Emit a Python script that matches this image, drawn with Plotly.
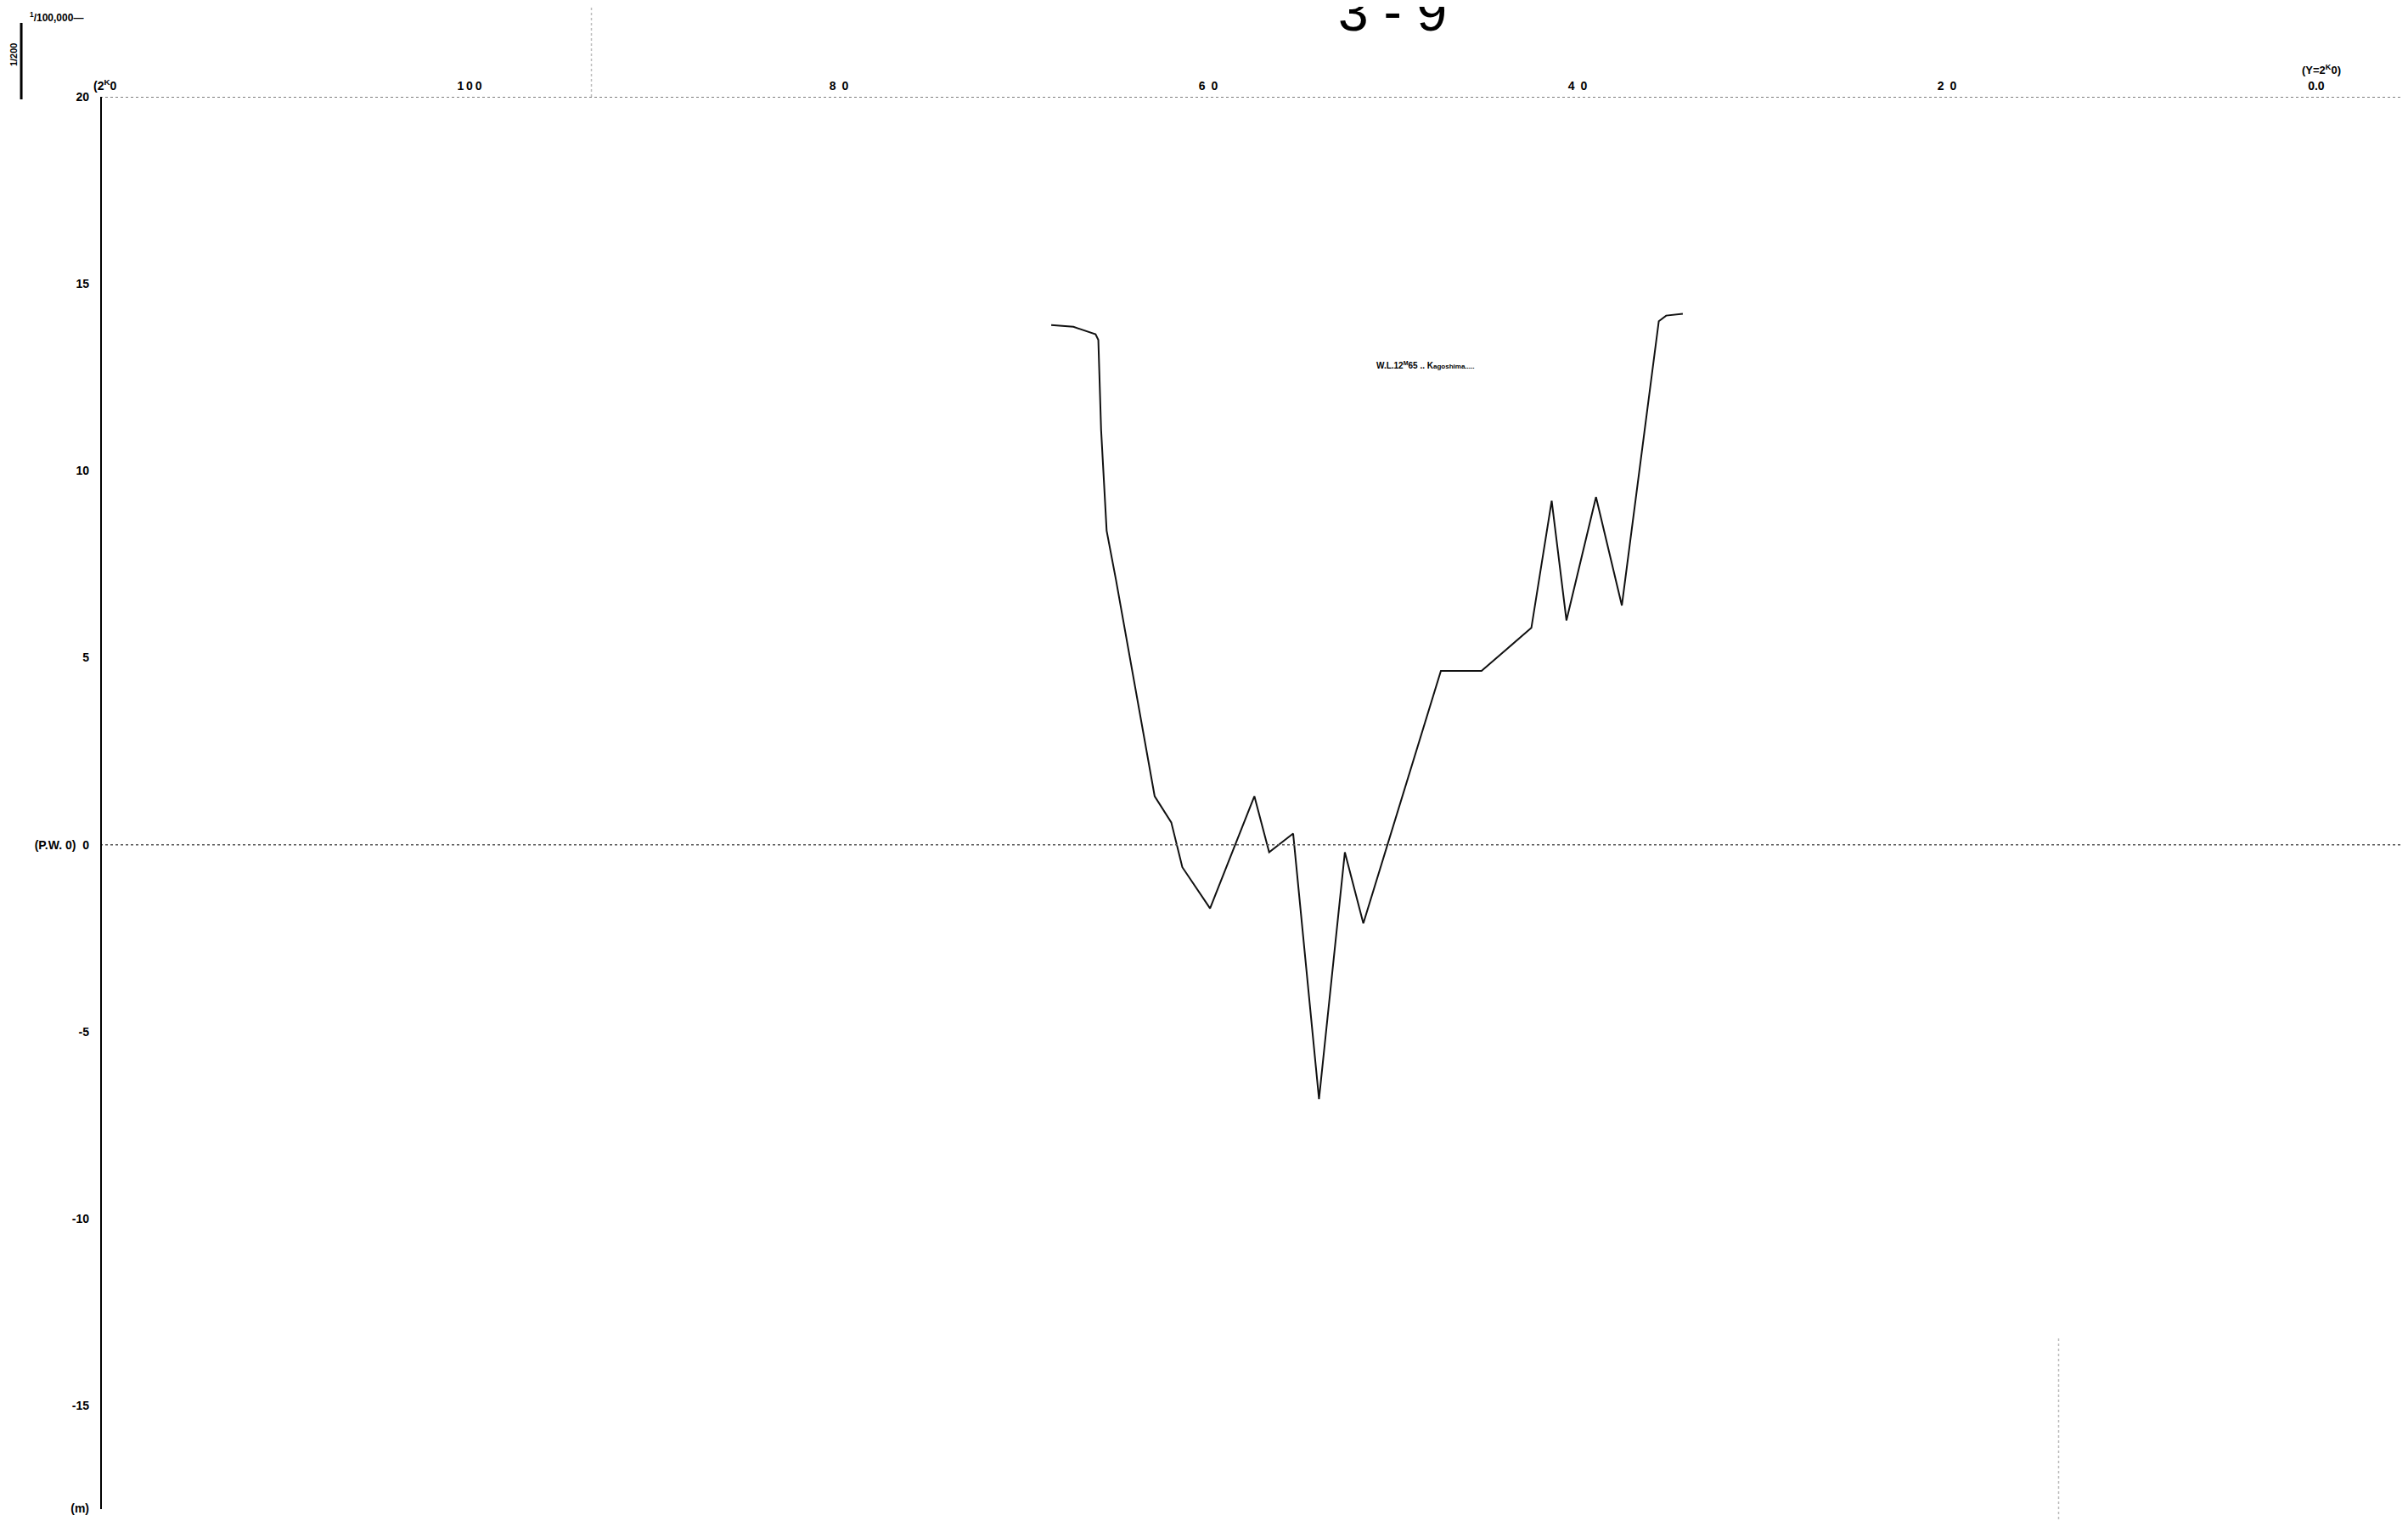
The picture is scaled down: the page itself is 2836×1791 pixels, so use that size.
import plotly.graph_objects as go

# ---- data (distance in km, elevation in m) ----
distance_km = [68.5, 67.3, 66.1, 65.95, 65.8, 65.5, 65.0, 63.8, 62.9, 62.0, 61.4, 59.9,
               57.5, 56.7, 55.4, 54.0, 52.6, 51.6, 47.4, 45.2, 42.5, 41.4, 40.6, 39.0,
               37.6, 35.6, 35.2, 34.3]
elevation_m = [13.9, 13.85, 13.65, 13.5, 11.1, 8.4, 7.1, 3.8, 1.3, 0.6, -0.6, -1.7,
               1.3, -0.2, 0.3, -6.8, -0.2, -2.1, 4.65, 4.65, 5.8, 9.2, 6.0, 9.3,
               6.4, 14.0, 14.15, 14.2]

x_tickvals = [100, 80, 60, 40, 20, 0]
x_ticktext = ["1\u20090\u20090", "8\u20020", "6\u20020", "4\u20020", "2\u20020", "0.0"]
y_tickvals = [20, 15, 10, 5, 0, -5, -10, -15, -17.74]
y_ticktext = ["20", "15", "10", "5", "(P.W. 0) \u00a00", "-5", "-10", "-15", "(m)"]

FONT = "Liberation Sans"

fig = go.Figure()
fig.add_trace(go.Scatter(x=distance_km, y=elevation_m, mode="lines",
                         line=dict(color="#111111", width=2), showlegend=False,
                         hoverinfo="skip"))

shapes = [
    # datum lines
    dict(type="line", xref="x", yref="y", x0=120, x1=-4.97, y0=20, y1=20,
         line=dict(color="#555555", width=1.5, dash="dot")),
    dict(type="line", xref="x", yref="y", x0=120, x1=-4.97, y0=0, y1=0,
         line=dict(color="#555555", width=1.5, dash="dot")),
    # left axis
    dict(type="line", xref="x", yref="y", x0=120, x1=120, y0=-17.76, y1=20.1,
         line=dict(color="black", width=4)),
    # faint vertical marks
    dict(type="line", xref="x", yref="paper", x0=93.4, x1=93.4, y0=1.0, y1=1.068,
         line=dict(color="#bbbbbb", width=1.5, dash="dot")),
    dict(type="line", xref="x", yref="y", x0=13.95, x1=13.95, y0=-13.2, y1=-18.08,
         line=dict(color="#bbbbbb", width=1.5, dash="dot")),
    # scale bar at top-left
    dict(type="line", xref="paper", yref="paper", x0=-0.0342, x1=-0.0342,
         y0=0.9982, y1=1.0519, line=dict(color="black", width=3)),
]

annotations = [
    dict(text="3 - 9", xref="x", yref="paper", x=50.0, y=1.0368, xanchor="center",
         yanchor="bottom", showarrow=False, font=dict(family=FONT, size=64, color="black")),
    dict(text="<sup>1</sup>/100,000\u2014", xref="paper", yref="paper", x=-0.0313, y=1.0561,
         xanchor="left", yanchor="middle", showarrow=False,
         font=dict(family=FONT, size=12, color="black", weight="bold")),
    dict(text="1/200", xref="paper", yref="paper", x=-0.0375, y=1.0298, textangle=-90,
         xanchor="center", yanchor="middle", showarrow=False,
         font=dict(family=FONT, size=11, color="black", weight="bold")),
    dict(text="(2<sup>K</sup>0", xref="paper", yref="paper", x=-0.0037, y=1.0083,
         xanchor="left", yanchor="middle", showarrow=False,
         font=dict(family=FONT, size=14, color="black", weight="bold")),
    dict(text="(Y=2<sup>K</sup>0)", xref="x", yref="paper", x=-0.3, y=1.019,
         xanchor="center", yanchor="middle", showarrow=False,
         font=dict(family=FONT, size=13, color="black", weight="bold")),
    dict(text="W.L.12<sup>M</sup>65 .. K<span style='font-size:8px'>agoshima.....</span>",
         xref="x", yref="y", x=48.25, y=12.82, xanchor="center", yanchor="middle",
         showarrow=False, font=dict(family=FONT, size=10, color="black", weight="bold")),
]

# the page body adds an 8px offset, so the figure is sized/margined to compensate
fig.update_layout(
    width=2828, height=1783,
    margin=dict(l=110, r=0, t=106, b=0, pad=0),
    paper_bgcolor="white", plot_bgcolor="white",
    xaxis=dict(range=[120, -4.97], side="top", showgrid=False, zeroline=False,
               showline=False, ticks="", tickvals=x_tickvals, ticktext=x_ticktext,
               ticklabelstandoff=4, automargin=False,
               tickfont=dict(family=FONT, size=14, color="black", weight="bold")),
    yaxis=dict(range=[-18.08, 20], showgrid=False, zeroline=False, showline=False,
               ticks="", tickvals=y_tickvals, ticktext=y_ticktext, ticklabelstandoff=12,
               automargin=False,
               tickfont=dict(family=FONT, size=14, color="black", weight="bold")),
    shapes=shapes,
    annotations=annotations,
)

fig.write_html("out.html")
